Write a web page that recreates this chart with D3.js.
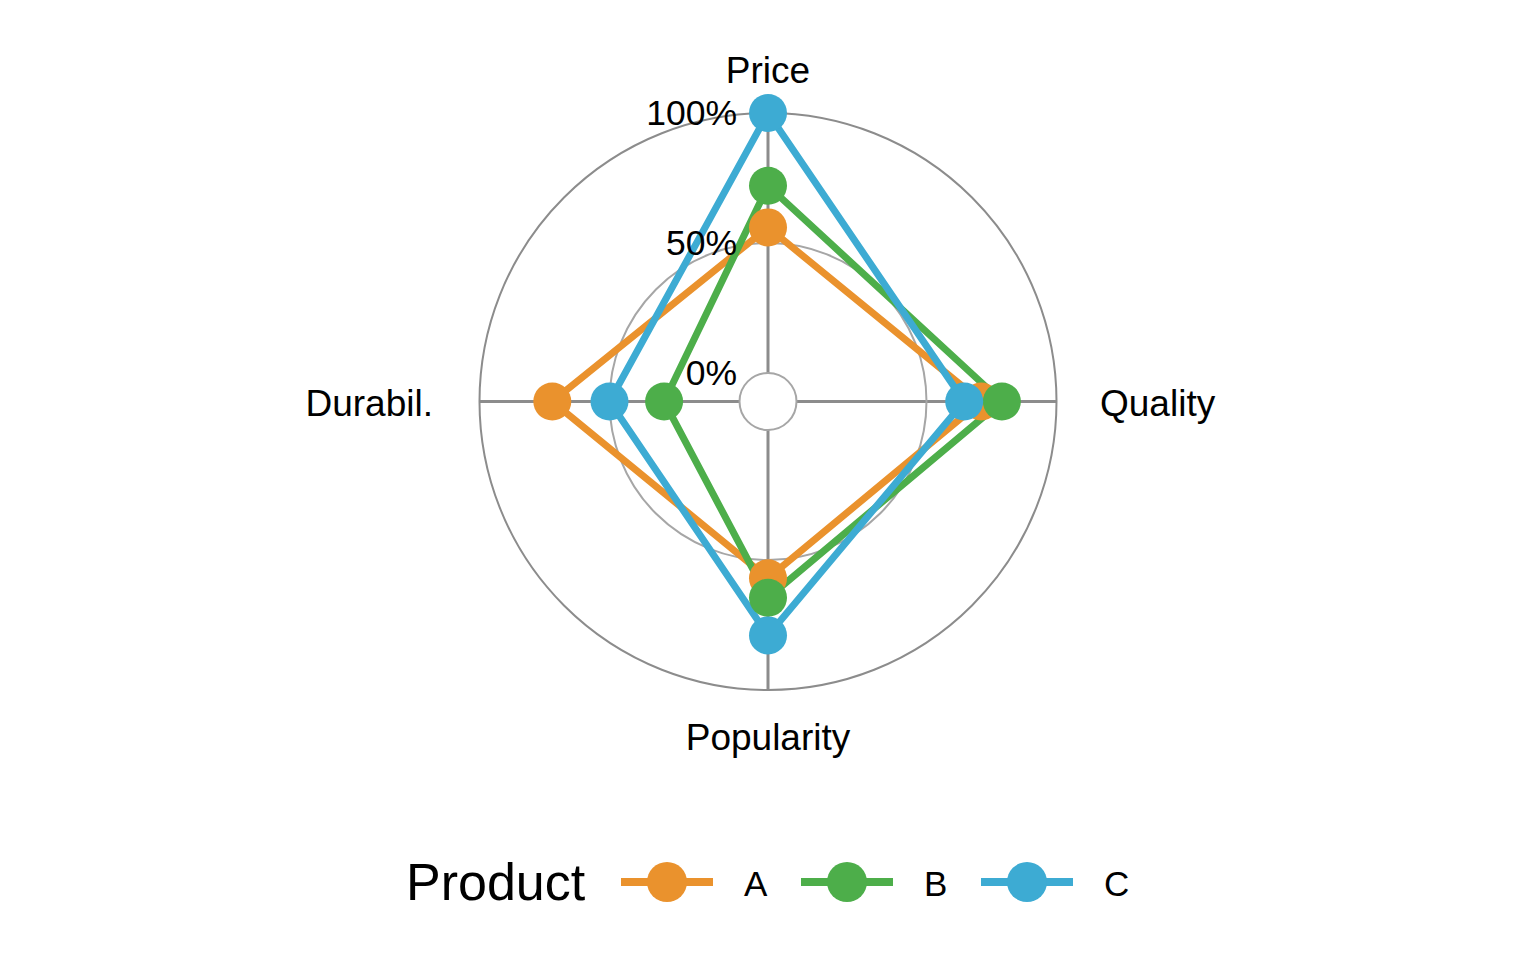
<!DOCTYPE html>
<html><head><meta charset="utf-8">
<script src="https://cdn.jsdelivr.net/npm/d3@7"></script>
<style>body{margin:0;background:#fff}svg{display:block}text{font-family:"Liberation Sans",Arial,Helvetica,sans-serif}</style>
</head><body>
<svg id="chart" width="1536" height="960"></svg>
<script>
const axes = ["Price", "Quality", "Popularity", "Durabil."];
const products = ["A", "B", "C"];
const valuesA = [0.56, 0.71, 0.57, 0.72];
const valuesB = [0.72, 0.79, 0.645, 0.29];
const valuesC = [1.0, 0.645, 0.79, 0.50];
const gridValues = [0, 0.5, 1];
const gridLabels = ["0%", "50%", "100%"];
const colors = ["#EA922D", "#4DAE4A", "#3DABD3"];

const series = [valuesA, valuesB, valuesC];
const svg = d3.select("#chart");
const cx = 768, cy = 401.5;
const r = d3.scaleLinear().domain([0, 1]).range([28.5, 288.5]);
const angle = d3.scaleBand().domain(axes).range([0, 2 * Math.PI]).paddingInner(0).paddingOuter(0);
const ang = a => angle(a);
const g = svg.append("g").attr("transform", `translate(${cx},${cy})`);

// spokes
g.selectAll("line.spoke").data(axes).join("line")
  .attr("x1", 0).attr("y1", 0)
  .attr("x2", d => r(1) * Math.sin(ang(d)))
  .attr("y2", d => -r(1) * Math.cos(ang(d)))
  .attr("stroke", "#8c8c8c").attr("stroke-width", 3);

// grid circles
g.selectAll("circle.grid").data(gridValues).join("circle")
  .attr("r", d => r(d))
  .attr("fill", d => d === 0 ? "#fff" : "none")
  .attr("stroke", d => d === 1 ? "#8c8c8c" : "#a6a6a6")
  .attr("stroke-width", 2);

// axis labels
const labelPos = {
  "Price": {x: 0, y: -331, anchor: "middle"},
  "Quality": {x: 332, y: 2, anchor: "start"},
  "Popularity": {x: 0, y: 336, anchor: "middle"},
  "Durabil.": {x: -335, y: 2, anchor: "end"}
};
g.selectAll("text.alab").data(axes).join("text")
  .attr("x", d => labelPos[d].x).attr("y", d => labelPos[d].y)
  .attr("text-anchor", d => labelPos[d].anchor).attr("dominant-baseline", "central")
  .attr("font-size", 37).attr("fill", "#000")
  .text(d => d);

const line = d3.lineRadial().angle((d, i) => ang(axes[i])).radius(d => r(d)).curve(d3.curveLinearClosed);

g.selectAll("path.series").data(series).join("path")
  .attr("d", d => line(d))
  .attr("fill", "none")
  .attr("stroke", (d, i) => colors[i]).attr("stroke-width", 7)
  .attr("stroke-linejoin", "round");

series.forEach((vals, si) => {
  g.selectAll(null).data(vals).join("circle")
    .attr("cx", (d, i) => r(d) * Math.sin(ang(axes[i])))
    .attr("cy", (d, i) => -r(d) * Math.cos(ang(axes[i])))
    .attr("r", 19).attr("fill", colors[si]);
});

// grid labels (on top of data)
g.selectAll("text.glab").data(gridValues).join("text")
  .attr("x", -31).attr("y", d => -r(d))
  .attr("text-anchor", "end").attr("dominant-baseline", "central")
  .attr("font-size", 35.5).attr("fill", "#000")
  .text((d, i) => gridLabels[i]);

// legend
const lg = svg.append("g").attr("transform", "translate(0,882)");
lg.append("text").attr("x", 406).attr("y", 0).attr("dominant-baseline", "central")
  .attr("font-size", 52).attr("fill", "#000").text("Product");
const lx = d3.scalePoint().domain(products).range([621, 981]);
const items = lg.selectAll("g.item").data(products).join("g")
  .attr("transform", d => `translate(${lx(d)},0)`);
items.append("line").attr("x1", 0).attr("x2", 92).attr("y1", 0).attr("y2", 0)
  .attr("stroke", (d, i) => colors[i]).attr("stroke-width", 8);
items.append("ellipse").attr("cx", 46).attr("cy", 0).attr("rx", 20).attr("ry", 20)
  .attr("fill", (d, i) => colors[i]);
items.append("text").attr("x", 123).attr("y", 1).attr("dominant-baseline", "central")
  .attr("font-size", 35).attr("fill", "#000").text(d => d);
</script>
</body></html>
